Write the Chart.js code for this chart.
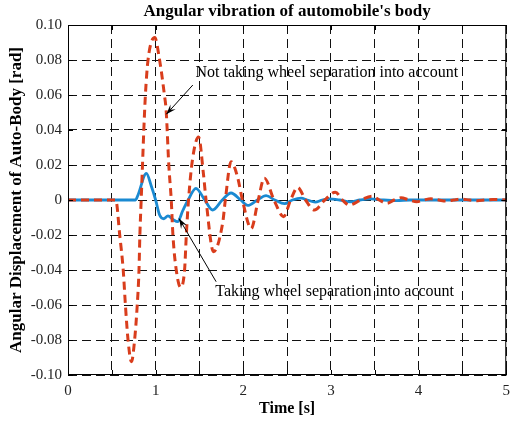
<!DOCTYPE html>
<html>
<head>
<meta charset="utf-8">
<script src="https://cdn.jsdelivr.net/npm/chart.js@4.4.1/dist/chart.umd.min.js"></script>
<style>
  html, body { margin: 0; padding: 0; background: #fff; }
</style>
</head>
<body>
<canvas id="c" width="517" height="422"></canvas>
<script>
// Not taking wheel separation into account (red dashed)
const tRed = [0, 0.50, 0.545, 0.59, 0.63, 0.655, 0.685, 0.724, 0.76, 0.79, 0.81, 0.82, 0.835, 0.85, 0.865, 0.883, 0.913, 0.99,
  1.045, 1.10, 1.12, 1.15, 1.178, 1.197, 1.235, 1.284, 1.33, 1.35, 1.375, 1.42, 1.49, 1.545, 1.575, 1.66, 1.765, 1.795, 1.86,
  1.935, 1.99, 2.09, 2.17, 2.24, 2.35, 2.46, 2.54, 2.62, 2.71, 2.81, 2.93, 3.05, 3.13, 3.21, 3.34, 3.47, 3.55, 3.64, 3.72,
  3.80, 3.89, 3.98, 4.06, 4.14, 4.23, 4.32, 4.40, 4.49, 4.58, 4.67, 4.76, 4.85, 5.0];
const vRed = [0, 0, 0, -0.02, -0.04, -0.06, -0.08, -0.0924, -0.08, -0.06, -0.04, -0.02, 0, 0.02, 0.04, 0.06, 0.08, 0.0928,
  0.08, 0.06, 0.051, 0.02, 0, -0.02, -0.04, -0.0499, -0.04, -0.02, 0, 0.023, 0.036, 0.015, 0, -0.0295, -0.013, 0, 0.0219,
  0.013, 0, -0.0163, 0, 0.0125, 0, -0.0095, 0, 0.0072, 0, -0.0057, 0, 0.0045, 0, -0.0029, 0, 0.0022, 0, -0.0019, 0,
  0.0013, 0, -0.001, 0, 0.0007, 0, -0.0006, 0, 0.0005, 0, -0.0004, 0, 0.0003, 0];

// Taking wheel separation into account (blue solid)
const tBlue = [0, 0.77, 0.80, 0.894, 0.95, 1.0, 1.045, 1.094, 1.14, 1.20, 1.25, 1.31, 1.37, 1.46, 1.56, 1.65, 1.76, 1.86,
  1.97, 2.05, 2.16, 2.26, 2.36, 2.47, 2.56, 2.66, 2.73, 2.82, 2.90, 2.97, 3.10, 3.22, 3.33, 3.45, 3.60, 3.75, 3.90, 5.0];
const vBlue = [0, 0, 0.003, 0.0152, 0.008, 0, -0.0086, -0.0107, -0.0091, -0.0112, -0.0124, -0.006, 0, 0.0067, 0, -0.0057, 0, 0.0040,
  0, -0.0031, 0, 0.0025, 0, -0.0021, 0, 0.0011, 0, -0.0012, 0, 0.0006, 0, -0.001, 0, 0.0006, 0, -0.0003, 0, 0];

const xGrid = [0, 0.5, 1, 1.5, 2, 2.5, 3, 3.5, 4, 4.5, 5];
const xLabels = ['0', '', '1', '', '2', '', '3', '', '4', '', '5'];
const yGrid = [-0.10, -0.08, -0.06, -0.04, -0.02, 0, 0.02, 0.04, 0.06, 0.08, 0.10];
const yLabels = ['-0.10', '-0.08', '-0.06', '-0.04', '-0.02', '0', '0.02', '0.04', '0.06', '0.08', '0.10'];

const chartTitle = "Angular vibration of automobile's body";
const xTitle = 'Time [s]';
const yTitle = 'Angular Displacement of Auto-Body [rad]';

// callouts: text anchor, arrow start, arrow tip (data units)
const notes = [
  { text: 'Not taking wheel separation into account', at: [1.455, 0.0726], from: [1.424, 0.0657], to: [1.122, 0.049] },
  { text: 'Taking wheel separation into account', at: [1.68, -0.0526], from: [1.69, -0.0467], to: [1.267, -0.0106] }
];

const SERIF = '"Liberation Serif", "Times New Roman", serif';

const pairs = (ts, vs) => ts.map((t, i) => ({ x: t, y: vs[i] }));

const frame = {
  id: 'frame',
  afterDraw(chart) {
    const { ctx, chartArea: a, scales: { x, y } } = chart;
    ctx.save();
    // box
    ctx.strokeStyle = '#000';
    ctx.lineWidth = 1;
    ctx.setLineDash([]);
    ctx.strokeRect(a.left + 0.5, a.top + 0.5, a.right - a.left - 1, a.bottom - a.top - 1);
    // inward tick marks
    ctx.beginPath();
    xGrid.forEach(v => {
      const px = Math.round(x.getPixelForValue(v)) + 0.5;
      ctx.moveTo(px, a.bottom); ctx.lineTo(px, a.bottom - 5);
      ctx.moveTo(px, a.top); ctx.lineTo(px, a.top + 5);
    });
    yGrid.forEach(v => {
      const py = Math.round(y.getPixelForValue(v)) + 0.5;
      ctx.moveTo(a.left, py); ctx.lineTo(a.left + 5, py);
      ctx.moveTo(a.right, py); ctx.lineTo(a.right - 5, py);
    });
    ctx.stroke();

    // title
    ctx.fillStyle = '#000';
    ctx.font = 'bold 17px ' + SERIF;
    ctx.textAlign = 'center';
    ctx.textBaseline = 'middle';
    ctx.fillText(chartTitle, (a.left + a.right) / 2, 12);

    // callouts
    ctx.font = '16px ' + SERIF;
    ctx.textAlign = 'left';
    notes.forEach(n => {
      const tx = x.getPixelForValue(n.at[0]), ty = y.getPixelForValue(n.at[1]);
      ctx.fillText(n.text, tx, ty);
      const x0 = x.getPixelForValue(n.from[0]), y0 = y.getPixelForValue(n.from[1]);
      const x1 = x.getPixelForValue(n.to[0]), y1 = y.getPixelForValue(n.to[1]);
      ctx.strokeStyle = '#000';
      ctx.lineWidth = 1;
      ctx.beginPath(); ctx.moveTo(x0, y0); ctx.lineTo(x1, y1); ctx.stroke();
      const ang = Math.atan2(y1 - y0, x1 - x0);
      const L = 10, W = 3.5;
      ctx.beginPath();
      ctx.moveTo(x1, y1);
      ctx.lineTo(x1 - L * Math.cos(ang) + W * Math.sin(ang), y1 - L * Math.sin(ang) - W * Math.cos(ang));
      ctx.lineTo(x1 - 0.6 * L * Math.cos(ang), y1 - 0.6 * L * Math.sin(ang));
      ctx.lineTo(x1 - L * Math.cos(ang) - W * Math.sin(ang), y1 - L * Math.sin(ang) + W * Math.cos(ang));
      ctx.closePath();
      ctx.fill();
    });
    ctx.restore();
  }
};

new Chart(document.getElementById('c'), {
  type: 'line',
  data: {
    datasets: [
      {
        label: 'Not taking wheel separation into account',
        data: pairs(tRed, vRed),
        borderColor: '#d93d1c',
        borderWidth: 3,
        borderDash: [8, 5],
        pointRadius: 0,
        cubicInterpolationMode: 'monotone',
        fill: false
      },
      {
        label: 'Taking wheel separation into account',
        data: pairs(tBlue, vBlue),
        borderColor: '#1a8ad2',
        borderWidth: 2.8,
        pointRadius: 0,
        cubicInterpolationMode: 'monotone',
        fill: false
      }
    ]
  },
  options: {
    responsive: false,
    animation: false,
    layout: { padding: { top: 25, right: 9, left: 0, bottom: 0 } },
    plugins: {
      legend: { display: false },
      tooltip: { enabled: false },
      title: { display: false }
    },
    scales: {
      x: {
        type: 'linear',
        min: 0,
        max: 5,
        afterBuildTicks: s => { s.ticks = xGrid.map(v => ({ value: v })); },
        afterFit: s => { s.height = 47; },
        grid: { color: '#111', lineWidth: 1, drawTicks: false },
        border: { display: false, dash: [9, 5] },
        ticks: {
          autoSkip: false,
          maxRotation: 0,
          padding: 7,
          color: '#222',
          font: { family: SERIF, size: 15 },
          callback: (v, i) => xLabels[i]
        },
        title: {
          display: true,
          text: xTitle,
          color: '#000',
          font: { family: SERIF, size: 16, weight: 'bold' },
          padding: { top: 0, bottom: 4 }
        }
      },
      y: {
        type: 'linear',
        min: -0.1,
        max: 0.1,
        afterBuildTicks: s => { s.ticks = yGrid.map(v => ({ value: v })); },
        afterFit: s => { s.width = 68; },
        grid: { color: '#111', lineWidth: 1, drawTicks: false },
        border: { display: false, dash: [9, 5] },
        ticks: {
          padding: 6,
          color: '#222',
          font: { family: SERIF, size: 15 },
          callback: (v, i) => yLabels[i]
        },
        title: {
          display: true,
          text: yTitle,
          color: '#000',
          font: { family: SERIF, size: 17, weight: 'bold' },
          padding: { top: 6, bottom: 0 }
        }
      }
    }
  },
  plugins: [frame]
});
</script>
</body>
</html>
